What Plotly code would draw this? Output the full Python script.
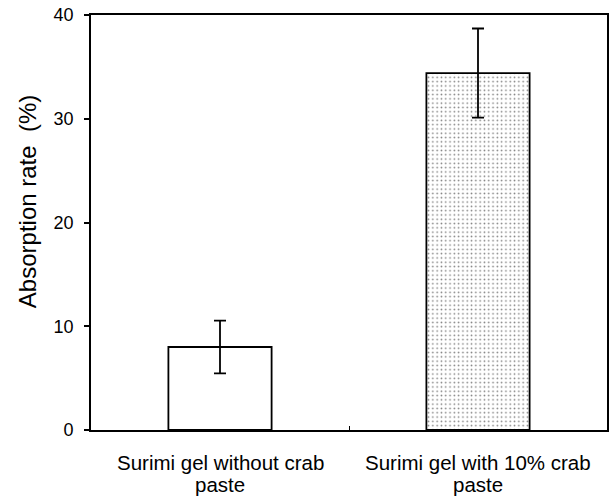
import plotly.graph_objects as go

categories = ["Surimi gel without crab paste", "Surimi gel with 10% crab paste"]
label_line1 = ["Surimi gel without crab", "Surimi gel with 10% crab"]
label_line2 = ["paste", "paste"]
values = [8.0, 34.4]
errors = [2.55, 4.3]
y_ticks = [0, 10, 20, 30, 40]
y_title = "Absorption rate  (%)"

FAM = "Liberation Sans, Arial, sans-serif"

fig = go.Figure()
fig.add_trace(go.Bar(
    x=categories,
    y=values,
    width=0.4,
    marker=dict(
        color="white",
        line=dict(color="black", width=1.8),
        pattern=dict(shape=["", "."], fgcolor="black", bgcolor="white", size=4.3, solidity=0.12),
    ),
    error_y=dict(type="data", array=errors, color="black", thickness=1.8, width=6),
))

annotations = []
for cat, l1, l2 in zip(categories, label_line1, label_line2):
    annotations.append(dict(x=cat, y=0, xref="x", yref="paper", text=l1, showarrow=False,
                            yanchor="middle", yshift=-32, font=dict(family=FAM, size=20.5, color="black")))
    annotations.append(dict(x=cat, y=0, xref="x", yref="paper", text=l2, showarrow=False,
                            yanchor="middle", yshift=-54, font=dict(family=FAM, size=20.5, color="black")))
annotations.append(dict(x=0, y=0.549, xref="paper", yref="paper", text=y_title, showarrow=False,
                        textangle=-90, xanchor="center", yanchor="middle", xshift=-64,
                        font=dict(family=FAM, size=24, color="black")))

fig.update_layout(
    width=612, height=501,
    margin=dict(l=91, r=5, t=15, b=71, autoexpand=False),
    plot_bgcolor="white", paper_bgcolor="white",
    showlegend=False,
    font=dict(family=FAM, color="black"),
    annotations=annotations,
)
fig.update_xaxes(
    showline=True, linecolor="black", linewidth=1.8, mirror=True, automargin=False,
    ticks="inside", tickson="boundaries", ticklen=4, tickcolor="black", tickwidth=1.2,
    showticklabels=False, range=[-0.5, 1.5], showgrid=False,
)
fig.update_yaxes(
    showline=True, linecolor="black", linewidth=1.8, mirror=True, automargin=False,
    ticks="outside", ticklen=5, tickcolor="black", tickwidth=1.5,
    tickvals=y_ticks, range=[0, 40], showgrid=False, zeroline=False,
    ticklabelstandoff=7, ticklabeloverflow="allow",
    tickfont=dict(size=18, family=FAM, color="black"),
)
fig.write_html("out.html", config={"displayModeBar": False},
               post_script="document.body.style.margin='0';")
